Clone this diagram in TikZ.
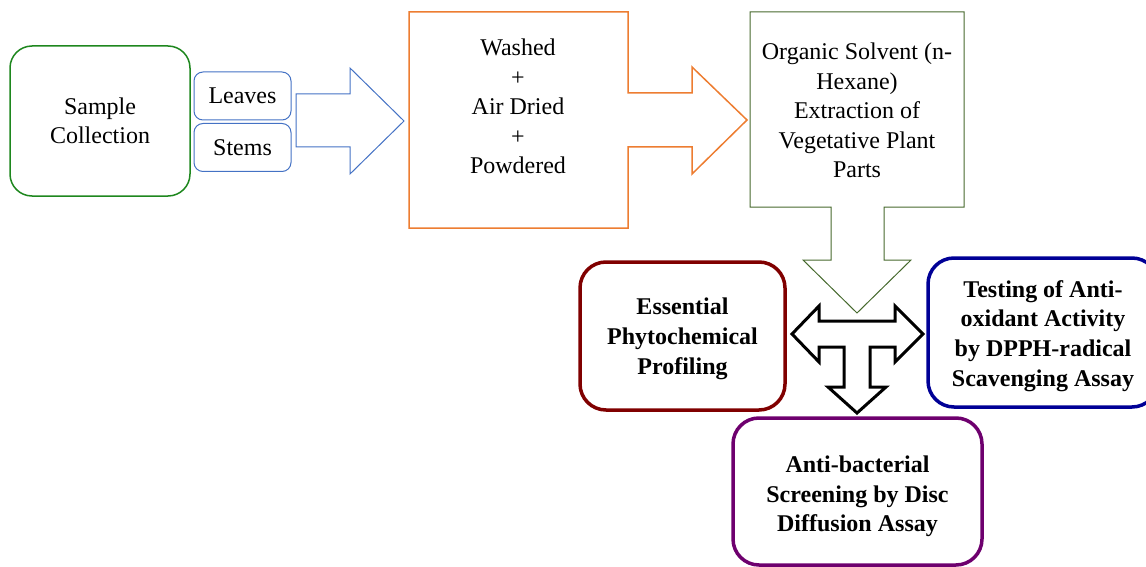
\documentclass[tikz,border=0pt]{standalone}
\usepackage{fontspec}
\setmainfont{Liberation Serif}
\usepackage{xcolor}
\definecolor{samplegreen}{RGB}{30,135,30}
\definecolor{partblue}{RGB}{68,114,196}
\definecolor{preporange}{RGB}{237,125,49}
\definecolor{extgreen}{RGB}{70,105,45}
\definecolor{profred}{RGB}{128,0,0}
\definecolor{oxblue}{RGB}{0,0,150}
\definecolor{bactpurple}{RGB}{110,0,110}

\begin{document}
\begin{tikzpicture}[x=1pt,y=-1pt]
	\tikzstyle{txt} = [align=center, inner sep=0pt, font=\fontsize{24}{29.5}\selectfont]
	\tikzstyle{part} = [txt, draw=partblue, line width=1pt, rounded corners=9pt, minimum width=97pt, minimum height=48pt]
	\tikzstyle{res} = [line width=3.5pt, rounded corners=26pt]
	\tikzstyle{restxt} = [txt, font=\fontsize{24}{29.7}\selectfont\bfseries]
	\useasboundingbox (0,0) rectangle (1146,567);

	\node [txt, draw=samplegreen, line width=1.5pt, rounded corners=22pt, minimum width=180pt, minimum height=150pt] (sample) at (100,121) {Sample\\Collection};
	\node [part] (leaves) at (242.5,96) {Leaves};
	\node [part] (stems) at (242.5,147.5) {Stems};

	\draw [partblue, line width=1pt] (296,94) -- (350,94) -- (350,68) -- (404,121) -- (350,174) -- (350,147) -- (296,147) -- cycle;

	\draw [preporange, line width=1.5pt] (409,12) -- (628,12) -- (628,93) -- (692,93) -- (692,67) -- (747,120) -- (692,174) -- (692,147) -- (628,147) -- (628,228) -- (409,228) -- cycle;
	\node [txt] (prep) at (518,106.5) {Washed\\+\\Air Dried\\+\\Powdered};

	\draw [extgreen, line width=1pt] (750,12) -- (964,12) -- (964,207) -- (884,207) -- (884,260) -- (911,260) -- (857,313) -- (803,260) -- (831,260) -- (831,207) -- (750,207) -- cycle;
	\node [txt] (extract) at (857,110.5) {Organic Solvent (n-\\Hexane)\\Extraction of\\Vegetative Plant\\Parts};

	\draw [black, line width=3pt, line join=miter] (792,334) -- (819,306) -- (819,321) -- (895,321) -- (895,306) -- (923,334) -- (895,362) -- (895,347) -- (870,347) -- (870,387) -- (886,387) -- (857,413) -- (828,387) -- (844,387) -- (844,347) -- (819,347) -- (819,362) -- cycle;

	\node [res, draw=profred, minimum width=205pt, minimum height=148pt] (profile) at (682.5,336) {};
	\node [restxt] (profiletext) at ([yshift=-3pt]profile.center) {Essential\\Phytochemical\\Profiling};
	\node [res, draw=oxblue, minimum width=230pt, minimum height=149pt] (antiox) at (1043,332.5) {};
	\node [restxt] (antioxtext) at ([yshift=-3.5pt]antiox.center) {Testing of Anti-\\oxidant Activity\\by DPPH-radical\\Scavenging Assay};
	\node [res, draw=bactpurple, minimum width=249pt, minimum height=147pt] (antibact) at (857.5,491.5) {};
	\node [restxt] (antibacttext) at ([yshift=-5pt]antibact.center) {Anti-bacterial\\Screening by Disc\\Diffusion Assay};
\end{tikzpicture}
\end{document}
